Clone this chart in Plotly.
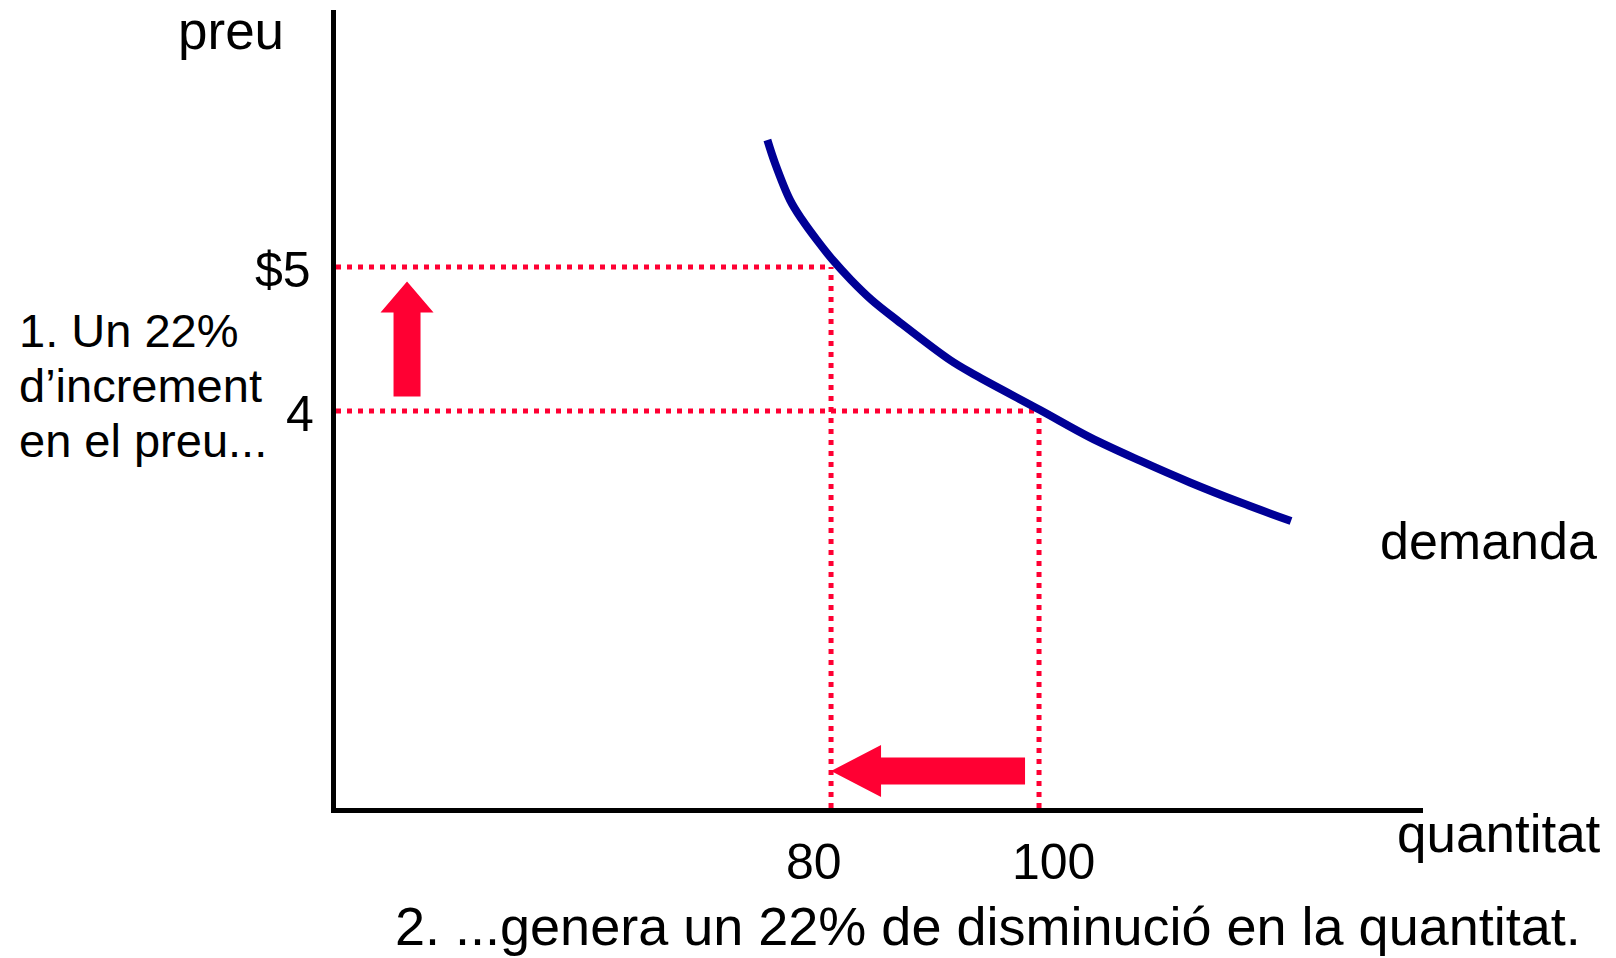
import plotly.graph_objects as go

# ---- data ----
curve_q = [73.88, 74.62, 76.06, 77.24, 78.63, 80.16, 81.92, 83.91, 86.32, 91.44,
           93.85, 100.10, 104.90, 109.71, 114.52, 119.33, 124.23]
curve_p = [5.882, 5.720, 5.465, 5.326, 5.188, 5.049, 4.910, 4.771, 4.632, 4.354,
           4.250, 4.007, 3.817, 3.655, 3.504, 3.366, 3.236]
point_q = [80, 100]
point_p = [5, 4]
q_tick_labels = ["80", "100"]
p_tick_labels = ["$5", "4"]

X_RANGE = [32.4, 136.92]
Y_RANGE = [1.243, 6.785]

OFF = 8  # page body margin
W, H = 1608, 950
ML, MR, MT, MB = 328, 193, 2, 150
PW, PH = W - ML - MR, H - MT - MB

def px(xp):
    return (xp - OFF - ML) / PW

def py(yp):
    return (H - MB - (yp - OFF)) / PH

RED = "#FF0033"
BLUE = "#000096"
FONT = "Liberation Sans, Arial, sans-serif"

fig = go.Figure()

shapes = []
for q, p in zip(point_q, point_p):
    shapes.append(dict(type="line", xref="x", yref="y", x0=X_RANGE[0], x1=q, y0=p, y1=p,
                       line=dict(color=RED, width=5, dash="5px,6px"), layer="below"))
    shapes.append(dict(type="line", xref="x", yref="y", x0=q, x1=q, y0=Y_RANGE[0], y1=p,
                       line=dict(color=RED, width=5, dash="5px,6px"), layer="below"))

# up arrow (price increase)
shapes.append(dict(type="path", xref="x", yref="y", xsizemode="pixel", ysizemode="pixel",
                   xanchor=39.23, yanchor=4.5,
                   path="M -13.5,-57.5 L 13.5,-57.5 L 13.5,26.5 L 26.5,26.5 L 0,57.5 L -26.5,26.5 L -13.5,26.5 Z",
                   fillcolor=RED, line=dict(width=0)))
# left arrow (quantity decrease)
shapes.append(dict(type="path", xref="x", yref="y", xsizemode="pixel", ysizemode="pixel",
                   xanchor=point_q[0], yanchor=1.5,
                   path="M 0,0 L 50,26 L 50,13.5 L 194,13.5 L 194,-13.5 L 50,-13.5 L 50,-26 Z",
                   fillcolor=RED, line=dict(width=0)))

fig.add_trace(go.Scatter(x=curve_q, y=curve_p, mode="lines",
                         line=dict(color=BLUE, width=8, shape="spline", smoothing=1.0),
                         hoverinfo="skip", showlegend=False))

def txt(text, xp, yp, xanchor="center", size=54):
    return dict(text=text, xref="paper", yref="paper", x=px(xp), y=py(yp),
                xanchor=xanchor, yanchor="middle", showarrow=False,
                font=dict(family=FONT, size=size, color="black"))

ann = [
    txt("preu", 286, 31, "right", 53),
    txt(p_tick_labels[0], 313, 270, "right", 50),
    txt(p_tick_labels[1], 316, 414, "right", 50),
    txt("1. Un 22%", 17, 331, "left", 47),
    txt("d\u2019increment", 17, 385, "left", 47),
    txt("en el preu...", 17, 440, "left", 47),
    txt(q_tick_labels[0], 814, 862, "center", 50),
    txt(q_tick_labels[1], 1053, 862, "center", 50),
    txt("quantitat", 1395, 833, "left", 53),
    txt("demanda", 1378, 541, "left", 52),
    txt("2. ...genera un 22% de disminució en la quantitat.", 988, 926, "center", 54),
]

fig.update_layout(
    width=W, height=H,
    margin=dict(l=ML, r=MR, t=MT, b=MB, pad=0),
    paper_bgcolor="white", plot_bgcolor="white",
    shapes=shapes, annotations=ann,
    xaxis=dict(range=X_RANGE, showgrid=False, zeroline=False, showticklabels=False,
               ticks="", showline=True, linecolor="black", linewidth=5, fixedrange=True),
    yaxis=dict(range=Y_RANGE, showgrid=False, zeroline=False, showticklabels=False,
               ticks="", showline=True, linecolor="black", linewidth=5, fixedrange=True),
    showlegend=False,
)

fig.write_html("out.html")
